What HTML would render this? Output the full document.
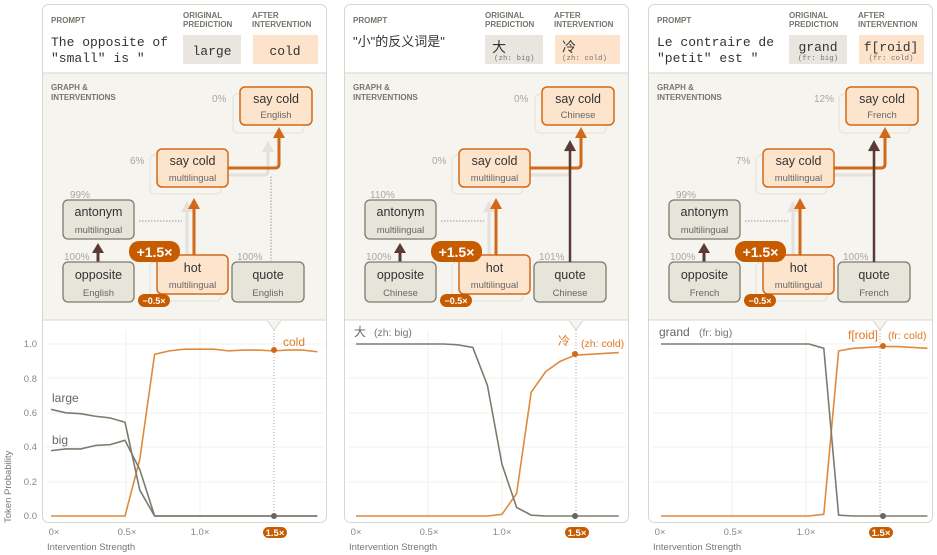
<!DOCTYPE html>
<html><head><meta charset="utf-8"><style>
body{margin:0;background:#fff;width:937px;height:555px;overflow:hidden}
svg{display:block;font-family:"Liberation Sans","Noto Sans CJK SC",sans-serif}
.hd{font-size:8px;font-weight:bold;fill:#77756c}
.mono{font-family:"Liberation Mono","Noto Sans CJK SC",monospace}
.pct{font-size:10px;fill:#a9a79f}
.nt{font-size:12.5px;fill:#333;text-anchor:middle}
.ns{font-size:9.5px;fill:#666;text-anchor:middle}
.gn{fill:#e7e4d9;stroke:#7d7a6e;stroke-width:1.3}
.on{fill:#fde4cc;stroke:#d2691a;stroke-width:1.5}
.gh{fill:none;stroke:#e6e4dc;stroke-width:1.3}
.tk{font-size:9.5px;fill:#888;text-anchor:end}
.xt{font-size:9.5px;fill:#888;text-anchor:middle}
.grid{stroke:#f1f1ef;stroke-width:1}
.ln{fill:none;stroke-width:1.6;vector-effect:non-scaling-stroke;stroke-linejoin:round}
</style></head><body>
<svg width="937" height="555" viewBox="0 0 937 555">
<defs>
<g id="base">
<rect x="0.5" y="4.5" width="284" height="518" rx="6" fill="#fff" stroke="#d8d6cf"/>
<rect x="1" y="73" width="283" height="247" fill="#f5f4ef"/>
<line x1="1" y1="73" x2="284" y2="73" stroke="#d8d6cf"/>
<line x1="1" y1="320" x2="284" y2="320" stroke="#d8d6cf"/>
<path d="M225 320 L232 330 L239 320 Z" fill="#f5f4ef"/>
<path d="M225 320.5 L232 330 L239 320.5" fill="none" stroke="#d8d6cf"/>
<text class="hd" x="9" y="23">PROMPT</text>
<text class="hd" x="141" y="18">ORIGINAL</text><text class="hd" x="141" y="27">PREDICTION</text>
<text class="hd" x="210" y="18">AFTER</text><text class="hd" x="210" y="27">INTERVENTION</text>
<text class="hd" x="9" y="90">GRAPH &amp;</text><text class="hd" x="9" y="100">INTERVENTIONS</text>
<!-- ghosts -->
<rect class="gh" x="191" y="94" width="71" height="39" rx="5"/>
<rect class="gh" x="108" y="155" width="71" height="39" rx="5"/>
<rect class="gh" x="108" y="262" width="71" height="39" rx="5"/>
<path d="M145 255 V210" stroke="#e4e0dc" stroke-width="3" fill="none"/>
<path d="M139 212 L145 201 L151 212 Z" fill="#e4e0dc"/>
<path d="M186 175 H222 Q226 175 226 171 V150" stroke="#e4e0dc" stroke-width="3" fill="none"/>
<path d="M220 152 L226 141 L232 152 Z" fill="#e4e0dc"/>
<!-- antonym dotted -->
<line x1="97" y1="221" x2="140" y2="221" stroke="#999" stroke-width="1" stroke-dasharray="1.5 1.5"/>
<!-- opposite->antonym -->
<path d="M56 262 V252" stroke="#5c3a35" stroke-width="3"/>
<path d="M50 253 L56 243 L62 253 Z" fill="#5c3a35"/>
<!-- orange arrows -->
<path d="M152 255 V208" stroke="#d2691a" stroke-width="3" fill="none"/>
<path d="M146 209 L152 198 L158 209 Z" fill="#d2691a"/>
<path d="M186 168 H233 Q237 168 237 164 V137" stroke="#d2691a" stroke-width="3" fill="none"/>
<path d="M231 138 L237 127 L243 138 Z" fill="#d2691a"/>
<!-- nodes -->
<rect class="on" x="198" y="87" width="72" height="38" rx="5"/>
<rect class="on" x="115" y="149" width="71" height="38" rx="5"/>
<text class="nt" x="150.5" y="165">say cold</text><text class="ns" x="150.5" y="181">multilingual</text>
<rect class="gn" x="21" y="200" width="71" height="39" rx="5"/>
<text class="nt" x="56.5" y="216">antonym</text><text class="ns" x="56.5" y="233">multilingual</text>
<rect class="gn" x="21" y="262" width="71" height="40" rx="5"/>
<rect class="on" x="115" y="255" width="71" height="39" rx="5"/>
<text class="nt" x="150.5" y="272">hot</text><text class="ns" x="150.5" y="288">multilingual</text>
<rect class="gn" x="190" y="262" width="72" height="40" rx="5"/>
<rect x="87" y="241" width="51" height="21" rx="10" fill="#c75b00"/>
<text x="112.5" y="257" font-size="14" font-weight="bold" fill="#fff" text-anchor="middle">+1.5×</text>
<rect x="96" y="294" width="32" height="13" rx="6.5" fill="#c75b00"/>
<text x="112" y="304" font-size="9" font-weight="bold" fill="#fff" text-anchor="middle">−0.5×</text>
<!-- chart grid -->
<g class="grid">
<line x1="4" y1="344" x2="282" y2="344"/><line x1="4" y1="378" x2="282" y2="378"/><line x1="4" y1="413" x2="282" y2="413"/><line x1="4" y1="447" x2="282" y2="447"/><line x1="4" y1="482" x2="282" y2="482"/>
<line x1="84" y1="330" x2="84" y2="518"/><line x1="158" y1="330" x2="158" y2="518"/>
</g>
<line x1="232" y1="330" x2="232" y2="516" stroke="#aaa" stroke-dasharray="1 2"/>
<text class="xt" x="12" y="535">0×</text><text class="xt" x="85" y="535">0.5×</text><text class="xt" x="158" y="535">1.0×</text>
<rect x="221" y="527" width="24" height="11" rx="5.5" fill="#c75b00"/>
<text x="233" y="536" font-size="9.5" font-weight="bold" fill="#fff" text-anchor="middle">1.5×</text>
<text x="5" y="550" font-size="9.5" fill="#777">Intervention Strength</text>
</g>
</defs>

<!-- PANEL 1 -->
<g transform="translate(42,0)">
<use href="#base"/>
<text class="mono" x="9" y="46" font-size="13" fill="#333">The opposite of</text>
<text class="mono" x="9" y="62" font-size="13" fill="#333">"small" is "</text>
<rect x="141" y="35" width="58" height="29" fill="#e8e6df"/>
<text class="mono" x="170" y="55" font-size="13" fill="#333" text-anchor="middle">large</text>
<rect x="211" y="35" width="65" height="29" fill="#fde3cc"/>
<text class="mono" x="243" y="55" font-size="13" fill="#333" text-anchor="middle">cold</text>
<line x1="229" y1="262" x2="229" y2="176" stroke="#999" stroke-dasharray="1.5 1.5"/>
<text class="nt" x="234" y="103">say cold</text><text class="ns" x="234" y="118">English</text>
<text class="nt" x="56.5" y="279">opposite</text><text class="ns" x="56.5" y="296">English</text>
<text class="nt" x="226" y="279">quote</text><text class="ns" x="226" y="296">English</text>
<text class="pct" x="170" y="102">0%</text><text class="pct" x="88" y="164">6%</text>
<text class="pct" x="28" y="198">99%</text><text class="pct" x="22" y="260">100%</text><text class="pct" x="195" y="260">100%</text>
<g transform="translate(9,516) scale(1.48,-1.72)">
<polyline class="ln" stroke="#e08a3c" points="0,0 50,0 60,33 70,94 80,96 90,97 100,97 110,97 120,96 130,96.5 140,96.5 150,96 160,96.5 170,96.5 180,95.5"/>
<polyline class="ln" stroke="#7d7a6e" points="0,62 10,60 20,59.5 30,58 40,57 50,54.5 60,15 70,0 180,0"/>
<polyline class="ln" stroke="#7d7a6e" points="0,38 10,39 20,39 30,41 40,41.5 50,44 60,27 70,0 180,0"/>
</g>
<circle cx="232" cy="350" r="3" fill="#d2691a"/><circle cx="232" cy="516" r="3" fill="#666"/>
<text x="241" y="346" font-size="12" fill="#e07a20">cold</text>
<text x="10" y="402" font-size="12" fill="#666">large</text>
<text x="10" y="444" font-size="12" fill="#666">big</text>
</g>
<!-- y axis panel1 -->
<text class="tk" x="37" y="347">1.0</text><text class="tk" x="37" y="382">0.8</text><text class="tk" x="37" y="416">0.6</text><text class="tk" x="37" y="450">0.4</text><text class="tk" x="37" y="485">0.2</text><text class="tk" x="37" y="519">0.0</text>
<text transform="translate(11,523) rotate(-90)" font-size="9.5" fill="#777">Token Probability</text>

<!-- PANEL 2 -->
<g transform="translate(344,0)">
<use href="#base"/>
<text x="9" y="46" font-size="13" fill="#333">"小"的反义词是"</text>
<rect x="141" y="35" width="58" height="29" fill="#e8e6df"/>
<text x="148" y="52" font-size="14" fill="#333">大</text>
<text class="mono" x="150" y="60" font-size="7.5" fill="#777">(zh: big)</text>
<rect x="211" y="35" width="65" height="29" fill="#fde3cc"/>
<text x="218" y="52" font-size="14" fill="#333">冷</text>
<text class="mono" x="218" y="60" font-size="7.5" fill="#777">(zh: cold)</text>
<path d="M226 262 V150" stroke="#5c3a35" stroke-width="2.5"/>
<path d="M220 151 L226 140 L232 151 Z" fill="#5c3a35"/>
<text class="nt" x="234" y="103">say cold</text><text class="ns" x="234" y="118">Chinese</text>
<text class="nt" x="56.5" y="279">opposite</text><text class="ns" x="56.5" y="296">Chinese</text>
<text class="nt" x="226" y="279">quote</text><text class="ns" x="226" y="296">Chinese</text>
<text class="pct" x="170" y="102">0%</text><text class="pct" x="88" y="164">0%</text>
<text class="pct" x="26" y="198">110%</text><text class="pct" x="22" y="260">100%</text><text class="pct" x="195" y="260">101%</text>
<g transform="translate(12,516) scale(1.46,-1.72)">
<polyline class="ln" stroke="#e08a3c" points="0,0 90,0 100,1 110,13 120,72 130,84 140,90 150,93.5 160,94 170,94.5 180,95"/>
<polyline class="ln" stroke="#7d7a6e" points="0,100 60,100 70,99.5 80,98 90,76 100,30 110,5 120,0.5 130,0 180,0"/>
</g>
<circle cx="231" cy="354" r="3" fill="#d2691a"/><circle cx="231" cy="516" r="3" fill="#666"/>
<text x="214" y="345" font-size="12" fill="#e07a20">冷</text>
<text x="237" y="347" font-size="10.5" fill="#e07a20">(zh: cold)</text>
<text x="10" y="336" font-size="12" fill="#666">大</text>
<text x="30" y="336" font-size="10.5" fill="#777">(zh: big)</text>
</g>

<!-- PANEL 3 -->
<g transform="translate(648,0)">
<use href="#base"/>
<text class="mono" x="9" y="46" font-size="13" fill="#333">Le contraire de</text>
<text class="mono" x="9" y="62" font-size="13" fill="#333">"petit" est "</text>
<rect x="141" y="35" width="58" height="29" fill="#e8e6df"/>
<text class="mono" x="170" y="51" font-size="13" fill="#333" text-anchor="middle">grand</text>
<text class="mono" x="170" y="60" font-size="7.5" fill="#777" text-anchor="middle">(fr: big)</text>
<rect x="211" y="35" width="65" height="29" fill="#fde3cc"/>
<text class="mono" x="243" y="51" font-size="13" fill="#333" text-anchor="middle">f[roid]</text>
<text class="mono" x="243" y="60" font-size="7.5" fill="#777" text-anchor="middle">(fr: cold)</text>
<path d="M226 262 V150" stroke="#5c3a35" stroke-width="2.5"/>
<path d="M220 151 L226 140 L232 151 Z" fill="#5c3a35"/>
<text class="nt" x="234" y="103">say cold</text><text class="ns" x="234" y="118">French</text>
<text class="nt" x="56.5" y="279">opposite</text><text class="ns" x="56.5" y="296">French</text>
<text class="nt" x="226" y="279">quote</text><text class="ns" x="226" y="296">French</text>
<text class="pct" x="166" y="102">12%</text><text class="pct" x="88" y="164">7%</text>
<text class="pct" x="28" y="198">99%</text><text class="pct" x="22" y="260">100%</text><text class="pct" x="195" y="260">100%</text>
<g transform="translate(13,516) scale(1.48,-1.72)">
<polyline class="ln" stroke="#e08a3c" points="0,0 100,0 110,1 120,96 130,97.5 140,98 150,98.5 160,98.5 170,98 180,97.5"/>
<polyline class="ln" stroke="#7d7a6e" points="0,100 100,100 110,97.5 120,0.5 130,0 180,0"/>
</g>
<circle cx="235" cy="346" r="3" fill="#d2691a"/><circle cx="235" cy="516" r="3" fill="#666"/>
<text x="200" y="339" font-size="12" fill="#e07a20">f[roid]</text>
<text x="240" y="339" font-size="10.5" fill="#e07a20">(fr: cold)</text>
<text x="11" y="336" font-size="12" fill="#666">grand</text>
<text x="51" y="336" font-size="10.5" fill="#777">(fr: big)</text>
</g>
</svg>
</body></html>
